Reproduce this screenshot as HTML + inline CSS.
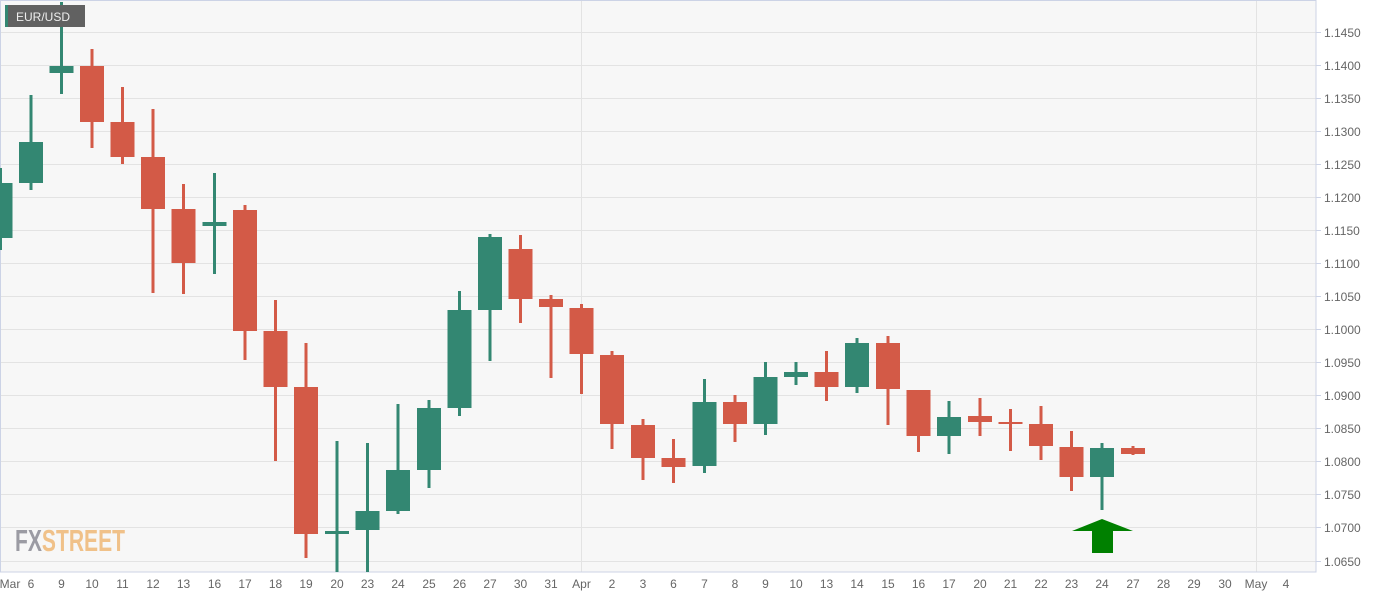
<!DOCTYPE html>
<html><head><meta charset="utf-8"><style>
html,body{margin:0;padding:0;background:#fff;}
svg{display:block;font-family:"Liberation Sans",sans-serif;}
</style></head><body>
<svg width="1387" height="598" viewBox="0 0 1387 598" xmlns="http://www.w3.org/2000/svg">
<rect x="0" y="0" width="1316" height="572" fill="#f7f7f7"/>
<g stroke="#e3e3e3" stroke-width="1">
<line x1="0" x2="1316" y1="32.5" y2="32.5"/><line x1="0" x2="1316" y1="65.5" y2="65.5"/><line x1="0" x2="1316" y1="98.5" y2="98.5"/><line x1="0" x2="1316" y1="131.5" y2="131.5"/><line x1="0" x2="1316" y1="164.5" y2="164.5"/><line x1="0" x2="1316" y1="197.5" y2="197.5"/><line x1="0" x2="1316" y1="230.5" y2="230.5"/><line x1="0" x2="1316" y1="263.5" y2="263.5"/><line x1="0" x2="1316" y1="296.5" y2="296.5"/><line x1="0" x2="1316" y1="329.5" y2="329.5"/><line x1="0" x2="1316" y1="362.5" y2="362.5"/><line x1="0" x2="1316" y1="395.5" y2="395.5"/><line x1="0" x2="1316" y1="428.5" y2="428.5"/><line x1="0" x2="1316" y1="461.5" y2="461.5"/><line x1="0" x2="1316" y1="494.5" y2="494.5"/><line x1="0" x2="1316" y1="527.5" y2="527.5"/><line x1="0" x2="1316" y1="561.5" y2="561.5"/>
<line x1="581.5" x2="581.5" y1="0" y2="572"/><line x1="1256.5" x2="1256.5" y1="0" y2="572"/>
</g>
<rect x="0.5" y="0.5" width="1315.5" height="571.5" fill="none" stroke="#ccd3e6"/>
<text x="15" y="551" font-size="31" font-weight="bold" transform="scale(1,1)" textLength="110" lengthAdjust="spacingAndGlyphs"><tspan fill="#9b9ba3">FX</tspan><tspan fill="#f0c189">STREET</tspan></text>
<!-- candles -->
<g fill="#338772">
<g transform="translate(0.5,0)"><rect x="-1.5" y="168" width="3" height="82"/><rect x="-12" y="183" width="24" height="55"/></g>
<g transform="translate(31,0)"><rect x="-1.5" y="95" width="3" height="95"/><rect x="-12" y="142" width="24" height="41"/></g>
<g transform="translate(61.5,0)"><rect x="-1.5" y="2" width="3" height="92"/><rect x="-12" y="66" width="24" height="7"/></g>
<g transform="translate(214.5,0)"><rect x="-1.5" y="173" width="3" height="101"/><rect x="-12" y="222" width="24" height="4"/></g>
<g transform="translate(337,0)"><rect x="-1.5" y="441" width="3" height="131"/><rect x="-12" y="531" width="24" height="3"/></g>
<g transform="translate(367.5,0)"><rect x="-1.5" y="443" width="3" height="129"/><rect x="-12" y="511" width="24" height="19"/></g>
<g transform="translate(398,0)"><rect x="-1.5" y="404" width="3" height="110"/><rect x="-12" y="470" width="24" height="41"/></g>
<g transform="translate(429,0)"><rect x="-1.5" y="400" width="3" height="88"/><rect x="-12" y="408" width="24" height="62"/></g>
<g transform="translate(459.5,0)"><rect x="-1.5" y="291" width="3" height="125"/><rect x="-12" y="310" width="24" height="98"/></g>
<g transform="translate(490,0)"><rect x="-1.5" y="234" width="3" height="127"/><rect x="-12" y="237" width="24" height="73"/></g>
<g transform="translate(704.5,0)"><rect x="-1.5" y="379" width="3" height="94"/><rect x="-12" y="402" width="24" height="64"/></g>
<g transform="translate(765.5,0)"><rect x="-1.5" y="362" width="3" height="73"/><rect x="-12" y="377" width="24" height="47"/></g>
<g transform="translate(796,0)"><rect x="-1.5" y="362" width="3" height="23"/><rect x="-12" y="372" width="24" height="5"/></g>
<g transform="translate(857,0)"><rect x="-1.5" y="338" width="3" height="55"/><rect x="-12" y="343" width="24" height="44"/></g>
<g transform="translate(949,0)"><rect x="-1.5" y="401" width="3" height="53"/><rect x="-12" y="417" width="24" height="19"/></g>
<g transform="translate(1102,0)"><rect x="-1.5" y="443" width="3" height="67"/><rect x="-12" y="448" width="24" height="29"/></g>
</g>
<g fill="#d35a47">
<g transform="translate(92,0)"><rect x="-1.5" y="49" width="3" height="99"/><rect x="-12" y="66" width="24" height="56"/></g>
<g transform="translate(122.5,0)"><rect x="-1.5" y="87" width="3" height="77"/><rect x="-12" y="122" width="24" height="35"/></g>
<g transform="translate(153,0)"><rect x="-1.5" y="109" width="3" height="184"/><rect x="-12" y="157" width="24" height="52"/></g>
<g transform="translate(183.5,0)"><rect x="-1.5" y="184" width="3" height="110"/><rect x="-12" y="209" width="24" height="54"/></g>
<g transform="translate(245,0)"><rect x="-1.5" y="205" width="3" height="155"/><rect x="-12" y="210" width="24" height="121"/></g>
<g transform="translate(275.5,0)"><rect x="-1.5" y="300" width="3" height="161"/><rect x="-12" y="331" width="24" height="56"/></g>
<g transform="translate(306,0)"><rect x="-1.5" y="343" width="3" height="215"/><rect x="-12" y="387" width="24" height="147"/></g>
<g transform="translate(520.5,0)"><rect x="-1.5" y="235" width="3" height="88"/><rect x="-12" y="249" width="24" height="50"/></g>
<g transform="translate(551,0)"><rect x="-1.5" y="295" width="3" height="83"/><rect x="-12" y="299" width="24" height="8"/></g>
<g transform="translate(581.5,0)"><rect x="-1.5" y="304" width="3" height="90"/><rect x="-12" y="308" width="24" height="46"/></g>
<g transform="translate(612,0)"><rect x="-1.5" y="351" width="3" height="98"/><rect x="-12" y="355" width="24" height="69"/></g>
<g transform="translate(643,0)"><rect x="-1.5" y="419" width="3" height="61"/><rect x="-12" y="425" width="24" height="33"/></g>
<g transform="translate(673.5,0)"><rect x="-1.5" y="439" width="3" height="44"/><rect x="-12" y="458" width="24" height="9"/></g>
<g transform="translate(735,0)"><rect x="-1.5" y="395" width="3" height="47"/><rect x="-12" y="402" width="24" height="22"/></g>
<g transform="translate(826.5,0)"><rect x="-1.5" y="351" width="3" height="50"/><rect x="-12" y="372" width="24" height="15"/></g>
<g transform="translate(888,0)"><rect x="-1.5" y="336" width="3" height="89"/><rect x="-12" y="343" width="24" height="46"/></g>
<g transform="translate(918.5,0)"><rect x="-1.5" y="390" width="3" height="62"/><rect x="-12" y="390" width="24" height="46"/></g>
<g transform="translate(980,0)"><rect x="-1.5" y="398" width="3" height="38"/><rect x="-12" y="416" width="24" height="6"/></g>
<g transform="translate(1010.5,0)"><rect x="-1.5" y="409" width="3" height="42"/><rect x="-12" y="422" width="24" height="2"/></g>
<g transform="translate(1041,0)"><rect x="-1.5" y="406" width="3" height="54"/><rect x="-12" y="424" width="24" height="22"/></g>
<g transform="translate(1071.5,0)"><rect x="-1.5" y="431" width="3" height="60"/><rect x="-12" y="447" width="24" height="30"/></g>
<g transform="translate(1133,0)"><rect x="-1.5" y="446" width="3" height="9"/><rect x="-12" y="448" width="24" height="6"/></g>
</g>
<!-- arrow -->
<polygon points="1102,519 1133,531 1113,531 1113,553 1092,553 1092,531 1072,531" fill="#008000"/>
<!-- label box -->
<rect x="5" y="5" width="80" height="22" fill="#616161"/>
<rect x="5" y="5" width="3" height="22" fill="#338772"/>
<text x="16" y="21" font-size="12" fill="#eee">EUR/USD</text>
<!-- y axis -->
<g stroke="#ccd3e6"><line x1="1316" x2="1321" y1="32.5" y2="32.5"/><line x1="1316" x2="1321" y1="65.5" y2="65.5"/><line x1="1316" x2="1321" y1="98.5" y2="98.5"/><line x1="1316" x2="1321" y1="131.5" y2="131.5"/><line x1="1316" x2="1321" y1="164.5" y2="164.5"/><line x1="1316" x2="1321" y1="197.5" y2="197.5"/><line x1="1316" x2="1321" y1="230.5" y2="230.5"/><line x1="1316" x2="1321" y1="263.5" y2="263.5"/><line x1="1316" x2="1321" y1="296.5" y2="296.5"/><line x1="1316" x2="1321" y1="329.5" y2="329.5"/><line x1="1316" x2="1321" y1="362.5" y2="362.5"/><line x1="1316" x2="1321" y1="395.5" y2="395.5"/><line x1="1316" x2="1321" y1="428.5" y2="428.5"/><line x1="1316" x2="1321" y1="461.5" y2="461.5"/><line x1="1316" x2="1321" y1="494.5" y2="494.5"/><line x1="1316" x2="1321" y1="527.5" y2="527.5"/><line x1="1316" x2="1321" y1="561.5" y2="561.5"/></g>
<g font-size="12" fill="#666">
<text x="1324" y="37">1.1450</text><text x="1324" y="70">1.1400</text><text x="1324" y="103">1.1350</text><text x="1324" y="136">1.1300</text><text x="1324" y="169">1.1250</text><text x="1324" y="202">1.1200</text><text x="1324" y="235">1.1150</text><text x="1324" y="268">1.1100</text><text x="1324" y="301">1.1050</text><text x="1324" y="334">1.1000</text><text x="1324" y="367">1.0950</text><text x="1324" y="400">1.0900</text><text x="1324" y="433">1.0850</text><text x="1324" y="466">1.0800</text><text x="1324" y="499">1.0750</text><text x="1324" y="532">1.0700</text><text x="1324" y="566">1.0650</text>
</g>
<!-- x axis -->
<g font-size="12" fill="#666" text-anchor="middle">
<text x="10" y="588">Mar</text><text x="31" y="588">6</text><text x="61.5" y="588">9</text><text x="92" y="588">10</text><text x="122.5" y="588">11</text><text x="153" y="588">12</text><text x="183.5" y="588">13</text><text x="214.5" y="588">16</text><text x="245" y="588">17</text><text x="275.5" y="588">18</text><text x="306" y="588">19</text><text x="337" y="588">20</text><text x="367.5" y="588">23</text><text x="398" y="588">24</text><text x="429" y="588">25</text><text x="459.5" y="588">26</text><text x="490" y="588">27</text><text x="520.5" y="588">30</text><text x="551" y="588">31</text><text x="581.5" y="588">Apr</text><text x="612" y="588">2</text><text x="643" y="588">3</text><text x="673.5" y="588">6</text><text x="704.5" y="588">7</text><text x="735" y="588">8</text><text x="765.5" y="588">9</text><text x="796" y="588">10</text><text x="826.5" y="588">13</text><text x="857" y="588">14</text><text x="888" y="588">15</text><text x="918.5" y="588">16</text><text x="949" y="588">17</text><text x="980" y="588">20</text><text x="1010.5" y="588">21</text><text x="1041" y="588">22</text><text x="1071.5" y="588">23</text><text x="1102" y="588">24</text><text x="1133" y="588">27</text><text x="1163.5" y="588">28</text><text x="1194" y="588">29</text><text x="1225" y="588">30</text><text x="1256" y="588">May</text><text x="1286" y="588">4</text>
</g>
</svg>
</body></html>
